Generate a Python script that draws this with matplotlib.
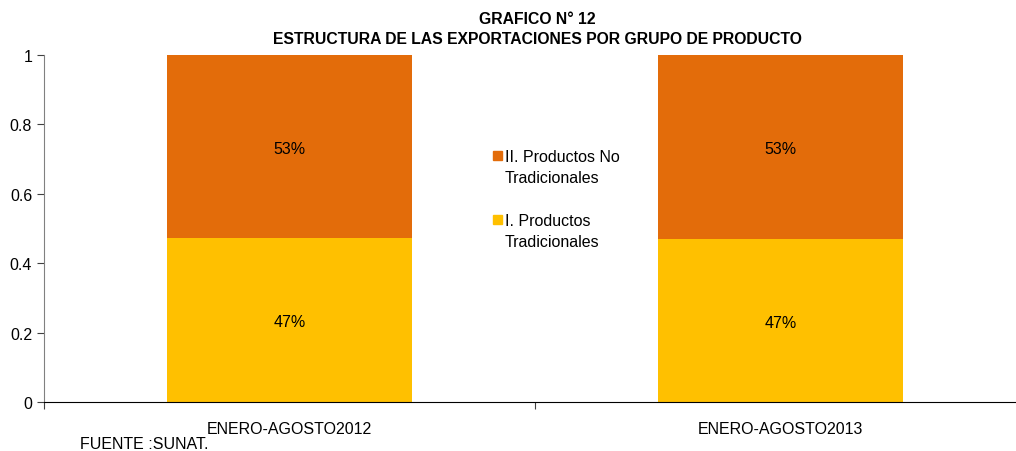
import matplotlib.pyplot as plt
from matplotlib.patches import Rectangle

plt.rcParams['font.family'] = ['Liberation Sans', 'DejaVu Sans']

periods = ['ENERO-AGOSTO2012', 'ENERO-AGOSTO2013']
tradicionales = [0.473, 0.47]
no_tradicionales = [0.527, 0.53]
labels_trad = ['47%', '47%']
labels_no_trad = ['53%', '53%']
color_trad = '#FFC000'
color_no_trad = '#E36C0A'

W, H = 1016, 452
fig = plt.figure(figsize=(W / 100, H / 100), dpi=100)
ax = fig.add_axes([44 / W, 1 - 403 / H, 1 - 44 / W, (403 - 56) / H])

x = range(len(periods))
ax.bar(x, tradicionales, width=0.5, color=color_trad)
ax.bar(x, no_tradicionales, width=0.5, bottom=tradicionales, color=color_no_trad)

for i in x:
    ax.text(i, tradicionales[i] / 2 - 0.005, labels_trad[i], ha='center', va='center', fontsize=11.5)
    ax.text(i, tradicionales[i] + no_tradicionales[i] / 2 - 0.005, labels_no_trad[i],
            ha='center', va='center', fontsize=11.5)

ax.set_yticks([0, 0.2, 0.4, 0.6, 0.8, 1])
ax.set_yticklabels(['0', '0.2', '0.4', '0.6', '0.8', '1'], fontsize=11.5)
ax.set_xticks([-0.5, 0.5, 1.5])
ax.set_xticklabels([])
ax.set_xticks(list(x), minor=True)
ax.set_xticklabels(periods, minor=True, fontsize=11.5)
ax.set_xlim(-0.5, 1.48)
ax.set_ylim(0, 1)
ax.tick_params(axis='x', which='minor', length=0, pad=13.5)
ax.tick_params(axis='x', which='major', length=5, color='#404040')
ax.tick_params(axis='y', length=5, color='#404040')
ax.spines['top'].set_visible(False)
ax.spines['right'].set_visible(False)
ax.spines['left'].set_color('#808080')
ax.spines['bottom'].set_color('black')

# legend drawn by hand: square aligned with the first line of each label
legend_items = [(color_no_trad, 'II. Productos No\nTradicionales', 152),
                (color_trad, 'I. Productos\nTradicionales', 216)]
for color, label, top in legend_items:
    fig.patches.append(Rectangle((493 / W, 1 - (top + 9) / H), 8.5 / W, 9 / H,
                                 transform=fig.transFigure, color=color))
    fig.text(505 / W, 1 - (top - 2) / H, label, ha='left', va='top', fontsize=11.5,
             linespacing=1.5)

fig.text(537 / W, 1 - 19 / H, 'GRAFICO N° 12', ha='center', va='center',
         fontsize=11.3, fontweight='bold')
fig.text(537 / W, 1 - 40 / H, 'ESTRUCTURA DE LAS EXPORTACIONES POR GRUPO DE PRODUCTO',
         ha='center', va='center', fontsize=11.3, fontweight='bold')
fig.text(80 / W, 1 - 445 / H, 'FUENTE :SUNAT.', ha='left', va='center', fontsize=11.5)

fig.savefig('out.png', dpi=100)
